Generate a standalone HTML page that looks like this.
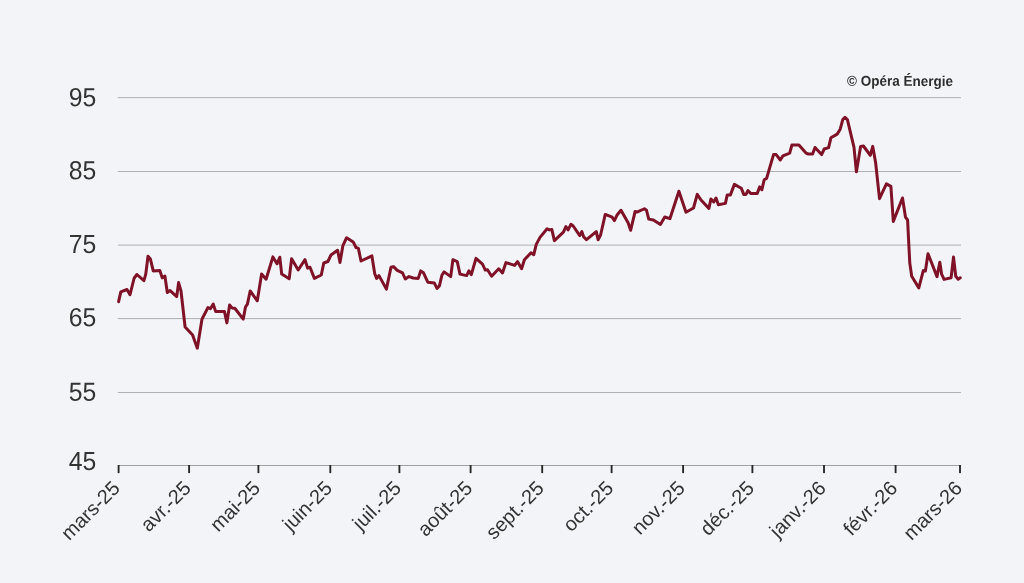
<!DOCTYPE html>
<html><head><meta charset="utf-8"><title>Chart</title>
<style>
html,body{margin:0;padding:0;background:#f2f4f8;}
body{width:1024px;height:583px;overflow:hidden;font-family:"Liberation Sans",sans-serif;}
svg{display:block;will-change:transform}
text{font-family:"Liberation Sans",sans-serif;}
.yl{font-size:26.3px;fill:#333;text-anchor:end}
.xl{font-size:20px;fill:#333;text-anchor:end}
</style></head><body>
<svg width="1024" height="583" viewBox="0 0 1024 583">

<rect x="117.8" y="97.15" width="843.2" height="1" fill="#b0b0b2"/>
<text class="yl" transform="translate(96.2,106.25) rotate(0.03) scale(0.942,1)">95</text>
<rect x="117.8" y="171.0" width="843.2" height="1" fill="#b0b0b2"/>
<text class="yl" transform="translate(96.2,179.35) rotate(0.03) scale(0.942,1)">85</text>
<rect x="117.8" y="244.6" width="843.2" height="1" fill="#b0b0b2"/>
<text class="yl" transform="translate(96.2,253.10) rotate(0.03) scale(0.942,1)">75</text>
<rect x="117.8" y="318.1" width="843.2" height="1" fill="#b0b0b2"/>
<text class="yl" transform="translate(96.2,326.35) rotate(0.03) scale(0.942,1)">65</text>
<rect x="117.8" y="392.0" width="843.2" height="1" fill="#b0b0b2"/>
<text class="yl" transform="translate(96.2,400.80) rotate(0.03) scale(0.942,1)">55</text>
<text class="yl" transform="translate(96.2,470.0) rotate(0.03) scale(0.942,1)">45</text>
<rect x="118" y="465" width="843" height="1" fill="#a0a0a2"/>
<rect x="117.68" y="465" width="1.85" height="8.1" fill="#262626"/>
<text class="xl" transform="translate(121.10,489.5) rotate(-45)" x="0" y="0">mars-25</text>
<rect x="188.18" y="465" width="1.85" height="8.1" fill="#262626"/>
<text class="xl" transform="translate(192.10,489.5) rotate(-45)" x="0" y="0">avr.-25</text>
<rect x="257.48" y="465" width="1.85" height="8.1" fill="#262626"/>
<text class="xl" transform="translate(261.40,489.5) rotate(-45)" x="0" y="0">mai-25</text>
<rect x="329.38" y="465" width="1.85" height="8.1" fill="#262626"/>
<text class="xl" transform="translate(333.30,489.5) rotate(-45)" x="0" y="0">juin-25</text>
<rect x="398.48" y="465" width="1.85" height="8.1" fill="#262626"/>
<text class="xl" transform="translate(402.40,489.5) rotate(-45)" x="0" y="0">juil.-25</text>
<rect x="469.68" y="465" width="1.85" height="8.1" fill="#262626"/>
<text class="xl" transform="translate(473.60,489.5) rotate(-45)" x="0" y="0">août-25</text>
<rect x="541.28" y="465" width="1.85" height="8.1" fill="#262626"/>
<text class="xl" transform="translate(545.20,489.5) rotate(-45)" x="0" y="0">sept.-25</text>
<rect x="610.68" y="465" width="1.85" height="8.1" fill="#262626"/>
<text class="xl" transform="translate(614.60,489.5) rotate(-45)" x="0" y="0">oct.-25</text>
<rect x="682.18" y="465" width="1.85" height="8.1" fill="#262626"/>
<text class="xl" transform="translate(686.10,489.5) rotate(-45)" x="0" y="0">nov.-25</text>
<rect x="751.48" y="465" width="1.85" height="8.1" fill="#262626"/>
<text class="xl" transform="translate(755.40,489.5) rotate(-45)" x="0" y="0">déc.-25</text>
<rect x="823.08" y="465" width="1.85" height="8.1" fill="#262626"/>
<text class="xl" transform="translate(827.00,489.5) rotate(-45)" x="0" y="0">janv.-26</text>
<rect x="894.68" y="465" width="1.85" height="8.1" fill="#262626"/>
<text class="xl" transform="translate(898.60,489.5) rotate(-45)" x="0" y="0">févr.-26</text>
<rect x="959.08" y="465" width="1.85" height="8.1" fill="#262626"/>
<text class="xl" transform="translate(963.25,489.5) rotate(-45)" x="0" y="0">mars-26</text>
<text transform="translate(953,85.9) rotate(0.03) scale(0.944,1)" text-anchor="end" font-size="14.3" font-weight="bold" fill="#2e2e2e">© Opéra Énergie</text>
<path d="M118.6,301.7 L120.8,291.9 L127,289.5 L130,294.75 L134.1,278.25 L136.9,274.5 L143.9,280.7 L145.75,274.1 L148,256.3 L150.4,259.1 L153.25,270.9 L159.8,270.4 L162.25,277.9 L164.9,276 L167.3,292.5 L170.1,290.6 L176.7,296.6 L178.6,282.6 L181,291 L185.1,327 L192.6,335 L197.3,348.2 L202,319.1 L208,307.5 L210.4,308.8 L213.25,304.1 L215.7,311.6 L224.5,311.6 L226.9,322.9 L229.6,305 L232,307.9 L234.8,308.25 L243.25,319.1 L245.5,307 L247.4,304.1 L250.2,291 L257.3,300.75 L261.6,274.1 L266.1,279.2 L272.9,256.9 L277,263.8 L279.8,257.25 L281.7,274.1 L289.2,278.8 L291.6,258.75 L298.2,270 L305,259.7 L307.6,268.1 L310,267.2 L314.4,278.4 L321.3,275 L323.75,263 L327.9,261.5 L331,255 L337.6,250.3 L340,262.5 L342.9,245.6 L346.6,237.75 L353.2,241.9 L356,247.5 L358.4,248.4 L361,261 L371.9,255.9 L374.75,273.75 L376.6,278.4 L379,275.6 L386.4,289.1 L391,267.2 L393.5,266.6 L397.25,270.4 L402.5,272.8 L405.3,279 L409,276.6 L413.2,278 L418.25,278.4 L420.7,270.9 L423.5,272.8 L427.8,282.2 L434.4,283.1 L437,288.4 L439.4,285.9 L441.9,275.25 L444.1,271.9 L450.7,276.6 L452.9,259.7 L457.25,261.6 L460,274.1 L466.6,275.6 L468.9,270.9 L471.3,274.7 L476,258.4 L482.5,264.2 L485.3,270.1 L487.5,269.7 L491.6,276.25 L498.75,268.75 L502.5,273 L505.9,262.6 L514.7,265.4 L517.5,261.6 L521.6,268.75 L524.4,259.75 L531,252.8 L533.8,254.7 L536.25,244.4 L540,237.4 L547.1,228.8 L549.4,229.9 L551.8,229.4 L554.4,240.6 L563.4,232.2 L565.9,226.6 L568.1,229.9 L570.9,224.3 L573.2,226 L579.75,235.6 L581.8,231.6 L583.7,236.9 L586.5,239.7 L596.25,231.6 L598.1,239.7 L600.6,235 L605.25,214.4 L612.2,217.2 L614.4,220.6 L616.9,215.3 L621,210.25 L628.1,222.8 L630.6,230.3 L635.1,211.6 L637.5,211.9 L644.4,208.75 L646.5,210.25 L648.75,219.1 L653.4,220 L660.4,224.5 L664.75,217 L669.9,218.7 L678.9,191.2 L686,212.2 L693.5,208 L697.25,194.4 L701,200 L708.9,208.4 L710.9,199 L713.75,201.9 L716,198.1 L718.4,204.7 L725.4,203.4 L727.25,194.9 L730.4,194.9 L734.4,184.4 L741.3,188.2 L743.75,194.4 L746,194.4 L747.9,190.6 L750.7,193.4 L757.25,193.4 L759.7,186.9 L761.9,189.7 L764.2,179.75 L766.6,178.4 L773.6,154.4 L776,154.4 L780.3,160 L782.9,155.9 L789.7,153.1 L791.9,145 L798.9,145 L806,153.1 L808.25,154 L812.6,154 L815,147.5 L821.6,154.6 L824.2,149 L828.6,147.6 L830.9,137.8 L837.2,134.1 L840.2,129.2 L842.75,119.6 L845,117.4 L847.4,119.6 L854,147.4 L856.4,171.75 L860.6,146.4 L863.4,146 L870.3,155.25 L872.75,146.4 L875.6,162.4 L879.5,198.7 L886.4,183.9 L890.9,186.4 L893.3,221.4 L902.5,198 L905.5,217.2 L907.6,220 L908.9,246.25 L909.8,263.1 L911.7,276.25 L918.8,287.9 L923.3,270.6 L925.4,271 L928,253.75 L937,276.6 L939.8,262.2 L941.7,274.4 L944.1,279.4 L951.1,277.75 L953.5,257.1 L955.75,276.25 L958.2,279.2 L960.3,277.8" fill="none" stroke="#7f1226" stroke-width="3" stroke-linejoin="round" stroke-linecap="round"/>
</svg></body></html>
